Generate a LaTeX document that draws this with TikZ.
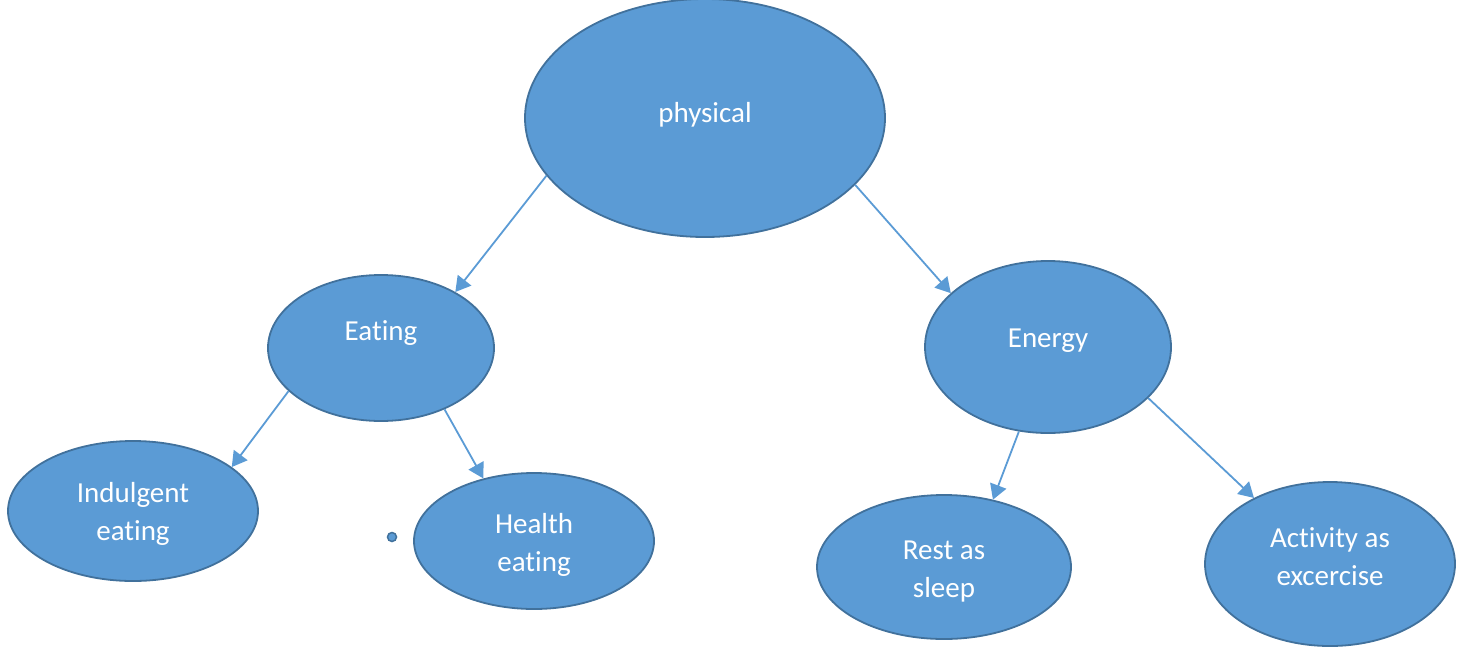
\documentclass[tikz,border=0pt]{standalone}
\usepackage{fontspec}
\setmainfont{Carlito}[Ligatures={NoCommon}]
\usetikzlibrary{shapes.geometric,arrows.meta}
\definecolor{bleu}{HTML}{5B9BD5}
\definecolor{bord}{HTML}{41719C}

\tikzset{bulle/.style={ellipse,draw=bord,line width=1.8pt,fill=bleu,text=white,
inner sep=0pt,align=center,font=\fontsize{29}{38}\selectfont},
fleche/.style={draw=bleu,line width=1.8pt,-{Triangle[length=15pt,width=17pt]}}}

\begin{document}
\begin{tikzpicture}[x=1pt,y=-1pt]
\useasboundingbox (0,0) rectangle (1465,649);
\node [bulle,minimum width=360pt,minimum height=238pt,text depth=11pt] (physical) at (705,118) {physical};
\node [bulle,minimum width=226pt,minimum height=146pt,text depth=34pt] (eating) at (381,348) {Eating};
\node [bulle,minimum width=246pt,minimum height=172pt,text depth=18pt] (energy) at (1048,347) {Energy};
\node [bulle,minimum width=250pt,minimum height=140pt] (indulgent) at (133,511) {\rule{0pt}{25pt}Indulgent\\eating};
\node [bulle,minimum width=240pt,minimum height=136pt] (health) at (534,541) {\rule{0pt}{28pt}Health\\eating};
\node [bulle,minimum width=254pt,minimum height=144pt] (rest) at (944,567) {\rule{0pt}{27pt}Rest as\\sleep};
\node [bulle,minimum width=250pt,minimum height=164pt] (activity) at (1330,564) {Activity as\\excercise\rule[-14pt]{0pt}{0pt}};
% point isole
\node [circle,draw=bord,line width=1.5pt,fill=bleu,minimum size=9pt,inner sep=0pt] (point) at (392,537) {};

\draw [fleche] (physical.200) -- (eating.37);
\draw [fleche] (physical.336) -- (energy.151);
\draw [fleche] (eating.205) -- (indulgent.24);
\draw [fleche] (eating.316) -- (health.129);
\draw [fleche] (energy.251) -- (rest.54);
\draw [fleche] (energy.333) -- (activity.139);
\end{tikzpicture}
\end{document}
